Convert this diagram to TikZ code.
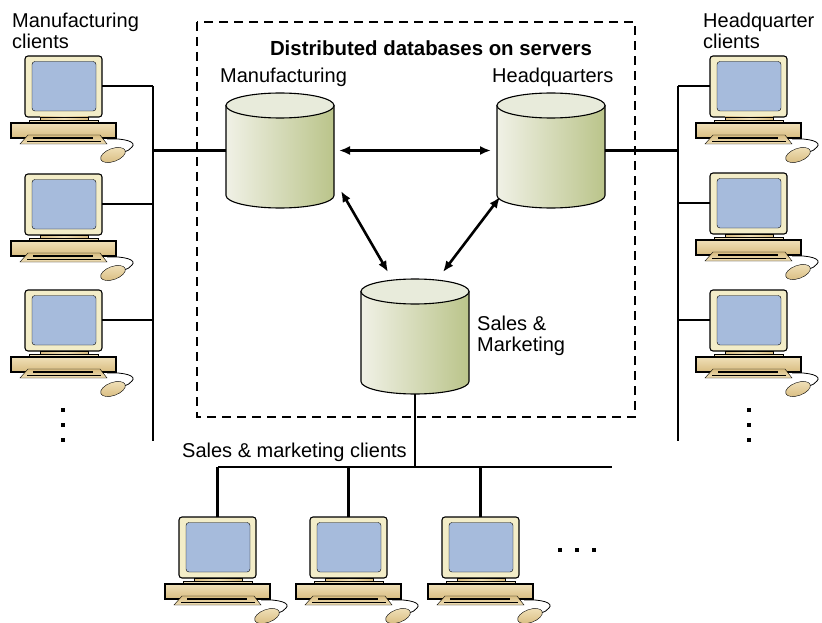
\documentclass[tikz,border=0pt]{standalone}
\usepackage{fontspec}
\setmainfont{Liberation Sans}
\usetikzlibrary{arrows.meta}
\definecolor{shell}{HTML}{F3EDC8}
\definecolor{screenblue}{HTML}{A6BBDC}
\definecolor{tanlight}{HTML}{F0E0B8}
\definecolor{tandark}{HTML}{D8BC80}
\definecolor{dbleft}{HTML}{F0F1E6}
\definecolor{dbright}{HTML}{BAC48A}
\definecolor{dbtop}{HTML}{E8EBDB}
\tikzset{
    lbl/.style={font=\fontsize{20}{21.5}\selectfont, align=left, inner sep=0pt},
    wire/.style={line width=2.6pt},
    dotmark/.style={fill=black, minimum size=3.5pt, inner sep=0pt},
    pc/.pic={
        \coordinate (-n) at (38.5,0);
        \coordinate (-w) at (0,30);
        \coordinate (-e) at (77,30);
        \draw[line width=1.1pt, fill=shell, rounded corners=3pt] (0,0) rectangle (77,61);
        \draw[fill=screenblue, rounded corners=3pt] (7,5.5) rectangle (71,55);
        \draw[left color=tandark, right color=tandark, middle color=tanlight] (15,61) rectangle (63,64);
        \draw[fill=tanlight] (4,64) rectangle (73,67);
        \draw[top color=tanlight, bottom color=tandark, line width=1.1pt] (-14,67) rectangle (91,82);
        \draw[top color=tandark, bottom color=tanlight] (-5,88) -- (3,79) -- (75,79) -- (82,88) -- cycle;
        \draw[line width=1.2pt] (8,82) -- (68,82);
        \draw[line width=.8pt] (2,85.5) -- (76,85.5);
        \draw[line width=0.8pt] (82,83) .. controls (100,82) and (112,86) .. (107,91) .. controls (105,94) and (102,95) .. (99,96);
        \draw[top color=tanlight, bottom color=tandark, rotate around={20:(88,99)}] (88,99) ellipse [x radius=13, y radius=6.5];
    },
    dbase/.pic={
        \node[minimum width=108pt, minimum height=90pt, inner sep=0pt, outer sep=0pt] (-body) at (54,45) {};
        \draw[line width=1.1pt, left color=dbleft, right color=dbright] (0,0) -- (0,90) arc[start angle=180, end angle=360, x radius=54, y radius=-12.5] -- (108,0) -- cycle;
        \draw[line width=1.1pt, fill=dbtop] (54,0) ellipse [x radius=54, y radius=12.5];
    }
}
\begin{document}
\begin{tikzpicture}[x=1pt, y=-1pt, >={Latex[length=11pt,width=9pt]}]
    \useasboundingbox (0,0) rectangle (822,623);
    \draw[wire, dash pattern=on 9pt off 6pt] (197,22) rectangle (635,417);

    % databases
    \pic (mfg) at (226,105.5) {dbase};
    \pic (hq) at (497,105.5) {dbase};
    \pic (sales) at (361,291.5) {dbase};

    % clients
    \foreach \n/\y in {1/56, 2/174, 3/290} {
        \pic (lpc\n) at (25,\y) {pc};
    }
    \foreach \n/\y in {1/56, 2/173, 3/290} {
        \pic (rpc\n) at (710,\y) {pc};
    }
    \foreach \n/\x in {1/179, 2/310, 3/442} {
        \pic (bpc\n) at (\x,517) {pc};
    }

    % buses
    \coordinate (lbustop) at (153,86);
    \coordinate (lbusend) at (153,441);
    \coordinate (rbustop) at (678,86);
    \coordinate (rbusend) at (678,441);
    \coordinate (bbusl) at (218,467);
    \coordinate (bbusr) at (612,467);
    \draw[wire] (lbustop) -- (lbusend);
    \draw[wire] (rbustop) -- (rbusend);
    \draw[wire] (bbusl) -- (bbusr);
    \foreach \n in {1,2,3} {
        \draw[wire] (lpc\n-e) -- (lpc\n-e -| lbustop);
        \draw[wire] (rpc\n-w) -- (rpc\n-w -| rbustop);
        \draw[wire] (bpc\n-n) -- (bpc\n-n |- bbusl);
    }
    \draw[wire] (mfg-body.west) -- (mfg-body.west -| lbustop);
    \draw[wire] (hq-body.east) -- (hq-body.east -| rbustop);
    \coordinate (salesout) at (415,394);
    \draw[wire] (salesout) -- (salesout |- bbusl);

    % replication
    \coordinate (mfgdiag) at (341,191);
    \coordinate (salesl) at (388,272);
    \coordinate (hqdiag) at (500,197);
    \coordinate (salesr) at (443,272);
    \draw[wire, <->, shorten <=5pt, shorten >=6pt] (mfg-body.east) -- (hq-body.west);
    \draw[wire, <->] (mfgdiag) -- (salesl);
    \draw[wire, <->] (hqdiag) -- (salesr);

    % labels
    \node[lbl, anchor=west] (mfgclients) at (12,31) {Manufacturing\\clients};
    \node[lbl, anchor=west] (hqclients) at (703,31) {Headquarter\\clients};
    \node[lbl, anchor=center, font=\fontsize{20.4}{21.5}\selectfont\bfseries] (title) at (431,48) {Distributed databases on servers};
    \node[lbl, anchor=west] (mfglabel) at (220,77) {Manufacturing};
    \node[lbl, anchor=west] (hqlabel) at (492,77) {Headquarters};
    \node[lbl, anchor=west] (saleslabel) at (477,336) {Sales \&\\Marketing};
    \node[lbl, anchor=west] (salesclients) at (182,452) {Sales \& marketing clients};

    % more clients
    \foreach \y [count=\i] in {410,425,440} {
        \node[dotmark] (ldot\i) at (63,\y) {};
        \node[dotmark] (rdot\i) at (749,\y) {};
    }
    \foreach \x [count=\i] in {560,577,594} {
        \node[dotmark] (bdot\i) at (\x,550) {};
    }
\end{tikzpicture}
\end{document}
